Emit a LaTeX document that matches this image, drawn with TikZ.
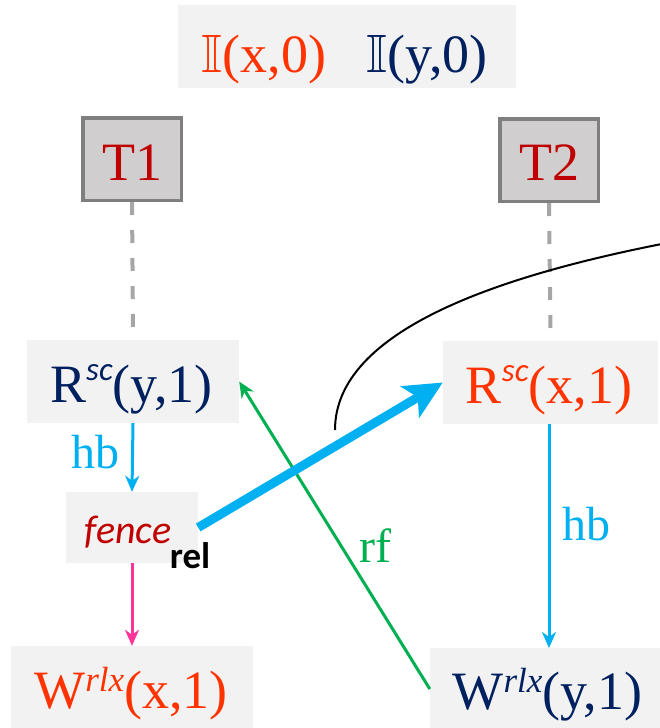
\documentclass[tikz,border=0pt]{standalone}
\usepackage{fontspec}
\usepackage{amssymb}
\setmainfont{Liberation Serif}
\setsansfont{Carlito}
\usetikzlibrary{arrows.meta}
\definecolor{orng}{HTML}{FF3300}
\definecolor{dblue}{HTML}{002060}
\definecolor{dred}{HTML}{C00000}
\definecolor{hbblue}{HTML}{00B0F0}
\definecolor{rfgreen}{HTML}{00B050}
\definecolor{pinkc}{HTML}{FF3399}
\definecolor{lightfill}{HTML}{F2F2F2}
\definecolor{tfill}{HTML}{D0CECE}
\definecolor{tborder}{HTML}{7F7F7F}
\definecolor{dashgray}{HTML}{A6A6A6}
\newcommand{\mainsz}{\fontsize{54}{58}\selectfont}
\newcommand{\supsc}[1]{\raisebox{22pt}{\fontsize{33}{35}\selectfont\sffamily\itshape #1}}
\newcommand{\suprlx}[1]{\raisebox{17pt}{\fontsize{35}{37}\selectfont\itshape #1}}
\begin{document}
\begin{tikzpicture}[x=1pt,y=-1pt,
  ebox/.style={fill=lightfill, draw=none, inner sep=0pt},
  tbox/.style={fill=tfill, draw=tborder, line width=3.5pt, inner sep=0pt},
  lbl/.style={inner sep=0pt, anchor=base, font=\mainsz},
  elbl/.style={inner sep=0pt, anchor=base, font=\fontsize{48}{52}\selectfont},
  thread/.style={draw=dashgray, line width=4pt, dash pattern=on 13pt off 15pt},
  thinarrow/.style={line width=3pt, -{Stealth[length=16pt,width=14pt,inset=5pt]}},
  bigarrow/.style={line width=9pt, -{Stealth[length=38pt,width=36pt,inset=9pt]}}]
\useasboundingbox (0,0) rectangle (659,728);
% init box
\node[ebox, minimum width=338pt, minimum height=83pt] (init) at (347,46.5) {};
\node[lbl, text=orng] (ix) at (264,72) {$\mathbb{I}$(x,0)};
\node[lbl, text=dblue] (iy) at (427,72) {$\mathbb{I}$(y,0)};
% threads
\node[tbox, minimum width=98.5pt, minimum height=82.5pt] (T1) at (132,159) {};
\node[tbox, minimum width=98.5pt, minimum height=82.5pt] (T2) at (549,160) {};
\node[lbl, text=dred] (t1l) at (132,180) {T1};
\node[lbl, text=dred] (t2l) at (549,180) {T2};
% event boxes
\node[ebox, minimum width=212pt, minimum height=83pt] (Ry) at (133,381.5) {};
\node[ebox, minimum width=215pt, minimum height=83pt] (Rx) at (550.5,382.5) {};
\node[ebox, minimum width=132pt, minimum height=71pt] (fence) at (132,527.5) {};
\node[ebox, minimum width=242pt, minimum height=94pt] (Wx) at (132,693) {};
\node[ebox, minimum width=235pt, minimum height=92pt] (Wy) at (547.5,694) {};
% texts
\node[lbl, text=dblue] (ryl) at (131.5,402) {R\supsc{sc}(y,1)};
\node[lbl, text=orng] (rxl) at (549,403) {R\supsc{sc}(x,1)};
\node[inner sep=0pt, anchor=base, text=dred, font=\fontsize{40}{44}\selectfont\sffamily\itshape] (fl) at (128,543) {fence};
\node[inner sep=0pt, anchor=base, text=black, font=\fontsize{37}{40}\selectfont\sffamily\bfseries] (rel) at (190,568) {rel};
\node[lbl, text=orng] (wxl) at (131,708) {W\suprlx{rlx}(x,1)};
\node[lbl, text=dblue] (wyl) at (547.5,709) {W\suprlx{rlx}(y,1)};
% thread lines
\draw[thread] (T1.south) -- ([yshift=10pt]Ry.north);
\draw[thread] (T2.south) -- ([yshift=10pt]Rx.north);
% black curve
\coordinate (cs) at (335,430);
\coordinate (ce) at (672,242);
\draw[black, line width=2pt] (cs) .. controls (335,330) and (500,275) .. (ce);
% edges
\draw[thinarrow, draw=hbblue, fill=hbblue] (Ry.south) -- (fence.north);
\node[elbl, text=hbblue] (hb1) at (95.5,468) {hb};
\draw[thinarrow, draw=pinkc, fill=pinkc] (fence.south) -- (fence.south |- Wx.north);
\draw[thinarrow, draw=hbblue, fill=hbblue] (549,424) -- (549,648);
\node[elbl, text=hbblue] (hb2) at (586,540) {hb};
\draw[thinarrow, draw=rfgreen, fill=rfgreen] ([yshift=5pt]Wy.west) -- (Ry.east);
\node[elbl, text=rfgreen] (rf) at (375,562) {rf};
\draw[bigarrow, draw=hbblue, fill=hbblue] (fence.east) -- (Rx.west);
\end{tikzpicture}
\end{document}
